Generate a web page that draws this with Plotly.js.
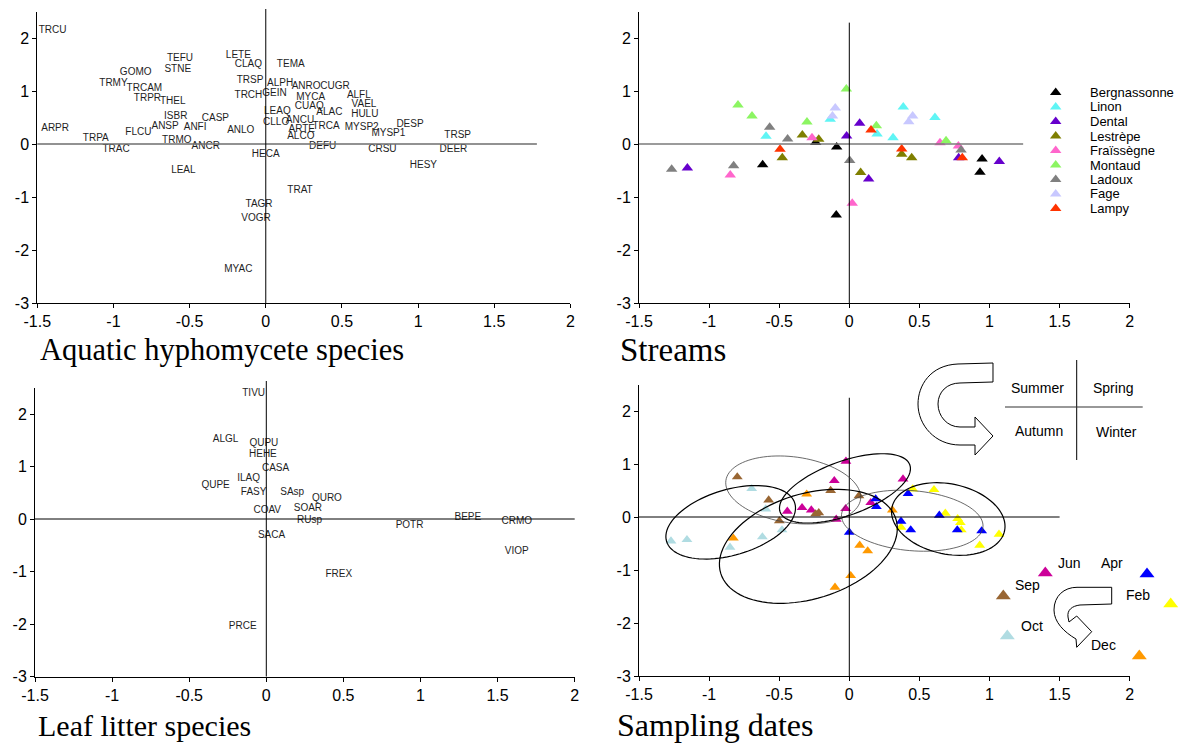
<!DOCTYPE html>
<html><head><meta charset="utf-8">
<script src="https://cdn.plot.ly/plotly-3.0.1.min.js"></script>
<style>html,body{margin:0;padding:0;background:#fff}#chart{width:1187px;height:745px}</style>
</head><body><div id="chart"></div>
<script>
// ---------------- DATA ----------------
// Panel 1: aquatic hyphomycete species (label, x, y)
const hyphoNames = ['TRCU','TEFU','STNE','LETE','CLAQ','GOMO','TRMY','TRCAM','TRPR','THEL','TRSP','TRCH','ISBR','CASP','ANSP','ANFI','ARPR','FLCU','ANLO','TRPA','TRMO','TRAC','ANCR','HECA','LEAL','TEMA','ALPH','ANRO','CUGR','GEIN','MYCA','ALFL','VAEL','CUAQ','ALAC','LEAQ','HULU','CLLO','ANCU','DESP','TRCA','MYSP2','ARTE','MYSP1','ALCO','TRSP','DEFU','CRSU','DEER','HESY','TRAT','TAGR','VOGR','MYAC'];
const hyphoX = [-1.40,-0.563,-0.578,-0.18,-0.114,-0.854,-1.00,-0.797,-0.777,-0.611,-0.103,-0.114,-0.591,-0.331,-0.661,-0.464,-1.383,-0.836,-0.164,-1.116,-0.584,-0.983,-0.394,0.00,-0.541,0.164,0.094,0.265,0.455,0.057,0.295,0.611,0.645,0.286,0.418,0.076,0.65,0.068,0.225,0.947,0.396,0.63,0.236,0.805,0.23,1.26,0.374,0.766,1.232,1.035,0.225,-0.044,-0.064,-0.18];
const hyphoY = [2.14,1.62,1.40,1.67,1.50,1.35,1.145,1.04,0.855,0.80,1.19,0.92,0.515,0.485,0.33,0.315,0.29,0.21,0.25,0.107,0.063,-0.10,-0.05,-0.20,-0.50,1.50,1.145,1.08,1.08,0.955,0.88,0.91,0.75,0.70,0.60,0.62,0.566,0.41,0.44,0.37,0.33,0.31,0.28,0.20,0.14,0.16,-0.05,-0.10,-0.10,-0.41,-0.88,-1.14,-1.415,-2.36];

// Panel 2: streams
const streamNames = ['Bergnassonne','Linon','Dental','Lestrèpe','Fraïssègne','Montaud','Ladoux','Fage','Lampy'];
const bergnassonneX = [-0.618,-0.24,-0.09,-0.093,0.947,0.932];
const bergnassonneY = [-0.39,0.03,-0.057,-1.34,-0.283,-0.535];
const linonX = [-0.594,-0.136,0.198,0.312,0.385,0.611];
const linonY = [0.145,0.466,0.189,0.12,0.70,0.50];
const dentalX = [-1.155,-0.019,0.074,0.138,0.78,1.07];
const dentalY = [-0.453,0.15,0.39,-0.66,-0.258,-0.33];
const lestrepeX = [-0.478,-0.335,-0.218,0.081,0.374,0.445];
const lestrepeY = [-0.258,0.17,0.088,-0.54,-0.195,-0.258];
const fraissegneX = [-0.849,-0.266,0.021,0.647,0.778];
const fraissegneY = [-0.585,0.12,-1.12,0.025,-0.038];
const montaudX = [-0.794,-0.694,-0.302,-0.021,0.193,0.69];
const montaudY = [0.736,0.528,0.415,1.04,0.346,0.063];
const ladouxX = [-1.267,-0.825,-0.568,-0.44,0.003,0.797];
const ladouxY = [-0.478,-0.41,0.315,0.094,-0.31,-0.113];
const fageX = [-0.12,-0.10,0.424,0.452];
const fageY = [0.528,0.68,0.42,0.528];
const lampyX = [-0.494,0.155,0.374,0.806];
const lampyY = [-0.10,0.264,-0.094,-0.258];

// Panel 3: leaf litter species
const leafNames = ['TIVU','ALGL','QUPU','HEHE','CASA','ILAQ','QUPE','FASY','SAsp','QURO','SOAR','COAV','RUsp','SACA','POTR','BEPE','CRMO','VIOP','FREX','PRCE'];
const leafX = [-0.082,-0.264,-0.016,-0.022,0.06,-0.115,-0.329,-0.082,0.168,0.393,0.27,0.006,0.281,0.034,0.929,1.307,1.624,1.624,0.47,-0.153];
const leafY = [2.39,1.505,1.44,1.225,0.958,0.768,0.634,0.50,0.514,0.387,0.196,0.158,-0.032,-0.31,-0.128,0.025,-0.044,-0.623,-1.048,-2.04];

// Panel 4: sampling dates
const monthNames = ['Jun','Sep','Oct','Dec','Feb','Apr'];
const junX = [-0.024,-0.107,0.383,-0.337,-0.442,-0.271,-0.026,-0.093,0.153];
const junY = [1.05,0.685,0.717,0.176,0.107,0.132,0.157,-0.044,0.27];
const sepX = [-0.799,-0.575,-0.499,-0.24,-0.218,-0.133,0.069];
const sepY = [0.755,0.32,-0.075,0.057,0.08,0.50,0.40];
const octX = [-1.272,-1.158,-0.696,-0.596,-0.62,-0.851,-0.48];
const octY = [-0.453,-0.428,0.534,0.151,-0.377,-0.572,-0.245];
const decX = [-0.827,-0.304,0.307,0.074,0.131,0.01,-0.102];
const decY = [-0.40,0.43,0.132,-0.535,-0.64,-1.107,-1.327];
const febX = [0.452,0.604,0.369,0.685,0.773,0.792,0.799,0.93,1.068];
const febY = [0.528,0.515,-0.195,0.07,-0.031,-0.107,-0.245,-0.535,-0.327];
const aprX = [0.188,0.193,0.419,0,0.369,0.438,0.642,0.77,0.944];
const aprY = [0.34,0.195,0.44,-0.289,-0.082,-0.245,0.032,-0.245,-0.264];
// dispersion ellipses (order: Oct, Sep, Jun, Dec, Apr, Feb)
const ellipseCx = [-0.846,-0.40,-0.031,-0.292,0.449,0.706];
const ellipseCy = [-0.10,0.51,0.54,-0.553,-0.07,-0.038];
const ellipseMajorPx = [66.9,68,69,91.7,71,57.5];
const ellipseMinorPx = [32.8,33,27,52.5,30,35.1];
const ellipseAngleDeg = [16.5,-8,20,17.2,-5,-11.8];

// axis ticks
const xTickVals = [-1.5,-1,-0.5,0,0.5,1,1.5,2];
const xTickText = ['-1.5','-1','-0.5','0','0.5','1','1.5','2'];
const yTickVals = [-3,-2,-1,0,1,2];
const yTickText = ['-3','-2','-1','0','1','2'];

// ---------------- STYLE / LAYOUT ----------------
const W = 1187, H = 745;
const XR = [-1.5, 2], YR = [-3, 2.5];
const BOX = {
  p1:{l:37.3,r:570.4,t:11.5,b:303},
  p2:{l:639,r:1129.7,t:11.5,b:303},
  p3:{l:35,r:574.7,t:387.75,b:676.5},
  p4:{l:639,r:1129.7,t:384.5,b:676}
};
const SANS = 'Liberation Sans, Arial, sans-serif';
const SERIF = 'Liberation Serif, Times New Roman, serif';
const streamColors = ['#000000','#5ff5f5','#6600cc','#7f7f00','#ff66cc','#8cf562','#808080','#c8c8ff','#ff3300'];
const monthColors = ['#cc0099','#996633','#b0dce2','#ff9900','#ffff00','#0000ff'];

function toPx(b,x,y){return [b.l+(x-XR[0])/(XR[1]-XR[0])*(b.r-b.l), b.b-(y-YR[0])/(YR[1]-YR[0])*(b.b-b.t)];}
function px2p(x,y){return [x/W, 1-y/H];}
function lineShape(x0,y0,x1,y1,color,width){const a=px2p(x0,y0),c=px2p(x1,y1);return {type:'line',xref:'paper',yref:'paper',x0:a[0],y0:a[1],x1:c[0],y1:c[1],line:{color:color,width:width}};}
function pathPx(pts,close){
  let s='';
  pts.forEach(p=>{s+=p[0];for(let i=1;i<p.length;i+=2){const q=px2p(p[i],p[i+1]);s+=(i>1?' ':'')+q[0].toFixed(5)+','+q[1].toFixed(5);}s+=' ';});
  return s+(close?'Z':'');
}

function axes(b, anchorX, anchorY){
  const common = {showgrid:false, zeroline:false, showline:true, linecolor:'#000', linewidth:1,
    ticks:'outside', ticklen:4, tickcolor:'#000', tickwidth:1, fixedrange:true,
    tickfont:{family:SANS,size:16,color:'#000'}};
  return [
    Object.assign({}, common, {domain:[b.l/W,b.r/W], range:XR, anchor:anchorY, tickmode:'array', tickvals:xTickVals, ticktext:xTickText}),
    Object.assign({}, common, {domain:[1-b.b/H,1-b.t/H], range:YR, anchor:anchorX, tickmode:'array', tickvals:yTickVals, ticktext:yTickText})
  ];
}

const traces = [];
const textFont = {family:SANS,size:10,color:'#1e1e1e'};
traces.push({type:'scatter',mode:'text',x:hyphoX,y:hyphoY,text:hyphoNames,textposition:'middle center',textfont:textFont,xaxis:'x',yaxis:'y',cliponaxis:false,hoverinfo:'text'});
const streamXs=[bergnassonneX,linonX,dentalX,lestrepeX,fraissegneX,montaudX,ladouxX,fageX,lampyX];
const streamYs=[bergnassonneY,linonY,dentalY,lestrepeY,fraissegneY,montaudY,ladouxY,fageY,lampyY];
streamNames.forEach((n,i)=>traces.push({type:'scatter',mode:'markers',name:n,x:streamXs[i],y:streamYs[i],xaxis:'x2',yaxis:'y2',marker:{symbol:'triangle-up',size:10,color:streamColors[i]}}));
traces.push({type:'scatter',mode:'text',x:leafX,y:leafY,text:leafNames,textposition:'middle center',textfont:textFont,xaxis:'x3',yaxis:'y3',cliponaxis:false,hoverinfo:'text'});
const monthXs=[junX,sepX,octX,decX,febX,aprX];
const monthYs=[junY,sepY,octY,decY,febY,aprY];
monthNames.forEach((n,i)=>traces.push({type:'scatter',mode:'markers',name:n,x:monthXs[i],y:monthYs[i],xaxis:'x4',yaxis:'y4',marker:{symbol:'triangle-up',size:9.5,color:monthColors[i]}}));

// legend markers on a full-figure pixel overlay axis
const streamLegendX = streamNames.map(()=>1055.7);
const streamLegendY = streamNames.map((n,i)=>92.5+i*14.5);
traces.push({type:'scatter',mode:'markers',x:streamLegendX,y:streamLegendY,xaxis:'x5',yaxis:'y5',marker:{symbol:'triangle-up',size:10,color:streamColors},hoverinfo:'skip'});
const monthLegendPos = {Jun:[1045.3,573],Sep:[1003.3,596],Oct:[1007.3,636],Dec:[1139.3,656],Feb:[1170.7,604],Apr:[1147,574]};
traces.push({type:'scatter',mode:'markers',x:monthNames.map(m=>monthLegendPos[m][0]),y:monthNames.map(m=>monthLegendPos[m][1]),xaxis:'x5',yaxis:'y5',marker:{symbol:'triangle-up',size:13,color:monthColors},hoverinfo:'skip'});

const [x1,y1]=axes(BOX.p1,'x','y');
const [x2,y2]=axes(BOX.p2,'x2','y2');
const [x3,y3]=axes(BOX.p3,'x3','y3');
const [x4,y4]=axes(BOX.p4,'x4','y4');

const shapes=[];
(function(){
  let a,b;
  a=toPx(BOX.p1,-1.5,0); b=toPx(BOX.p1,1.78,0); shapes.push(lineShape(a[0],a[1],b[0],b[1],'#6e6e6e',1.4));
  a=toPx(BOX.p1,0,-3); shapes.push(lineShape(a[0],a[1],a[0],9,'#000',1));
  a=toPx(BOX.p2,-1.5,0); b=toPx(BOX.p2,1.24,0); shapes.push(lineShape(a[0],a[1],b[0],b[1],'#7a7a7a',1.6));
  a=toPx(BOX.p2,0,-3); b=toPx(BOX.p2,0,2.29); shapes.push(lineShape(a[0],a[1],b[0],b[1],'#000',1));
  a=toPx(BOX.p3,-1.5,0); b=toPx(BOX.p3,2,0); shapes.push(lineShape(a[0],a[1],b[0],b[1],'#000',1));
  a=toPx(BOX.p3,0,-3); shapes.push(lineShape(a[0],a[1],a[0],381,'#000',1));
  a=toPx(BOX.p4,-1.5,0); b=toPx(BOX.p4,1.5,0); shapes.push(lineShape(a[0],a[1],b[0],b[1],'#000',1));
  a=toPx(BOX.p4,0,-3); b=toPx(BOX.p4,0,2.25); shapes.push(lineShape(a[0],a[1],b[0],b[1],'#000',1));
})();
ellipseCx.forEach((cx,i)=>{
  const c=toPx(BOX.p4,cx,ellipseCy[i]);
  const th=ellipseAngleDeg[i]*Math.PI/180, a=ellipseMajorPx[i], bb=ellipseMinorPx[i];
  const pts=[];
  for(let k=0;k<=96;k++){
    const t=k/96*2*Math.PI;
    const px=c[0]+a*Math.cos(t)*Math.cos(th)+bb*Math.sin(t)*Math.sin(th);
    const py=c[1]-a*Math.cos(t)*Math.sin(th)+bb*Math.sin(t)*Math.cos(th);
    pts.push([k?'L':'M',px,py]);
  }
  const thin=(i===1||i===4);
  shapes.push({type:'path',xref:'paper',yref:'paper',path:pathPx(pts,true),line:{color:thin?'#444':'#000',width:thin?0.8:1.2}});
});
shapes.push(lineShape(1076.7,360,1076.7,460,'#000',1));
shapes.push(lineShape(1005,407,1142.7,407,'#333',1.2));
shapes.push({type:'path',xref:'paper',yref:'paper',fillcolor:'#fff',line:{color:'#000',width:1},
  path:pathPx([['M',993,363],['L',958,364],['C',930,365,918,386,918,404],['C',918,425,935,445,960,445],['L',975,445],['L',975,455],['L',993,436],['L',975,417],['L',975,427],['L',960,427],['C',947,427,938,416,938,404],['C',938,392,947,383,960,383],['L',993,382]],true)});
shapes.push({type:'path',xref:'paper',yref:'paper',fillcolor:'#fff',line:{color:'#000',width:1},
  path:pathPx([['M',1111.7,587.3],['L',1111.7,604],['L',1080,605],['C',1072,606,1067,610,1068,617],['L',1069,622],['L',1076.7,616],['L',1091.7,631.7],['L',1076.7,647.3],['L',1076,639],['C',1064,632,1054,622,1054,610],['C',1054,596,1064,587.3,1077,587.3]],true)});

const annotations=[];
function ann(text,x,y,size,family,xanchor){const p=px2p(x,y);annotations.push({text:text,xref:'paper',yref:'paper',x:p[0],y:p[1],xanchor:xanchor||'center',yanchor:'middle',showarrow:false,font:{family:family||SANS,size:size,color:'#000'}});}
ann('Aquatic hyphomycete species',38,350,30.5,SERIF,'left');
ann('Streams',618,350,33,SERIF,'left');
ann('Leaf litter species',36,725,30,SERIF,'left');
ann('Sampling dates',615,725,32,SERIF,'left');
streamNames.forEach((n,i)=>ann(n,1088,streamLegendY[i],13,SANS,'left'));
ann('Summer',1037.3,388.3,14);
ann('Spring',1112.7,388.3,14);
ann('Autumn',1039.3,431,14);
ann('Winter',1116,431.7,14);
ann('Jun',1069.3,563.3,14);
ann('Apr',1112,563.3,14);
ann('Sep',1027.7,585,14);
ann('Feb',1138.3,595,14);
ann('Oct',1032.3,626,14);
ann('Dec',1103.3,645,14);

const layout = {
  width:W, height:H, margin:{l:0,r:0,t:0,b:0}, paper_bgcolor:'#fff', plot_bgcolor:'rgba(0,0,0,0)',
  showlegend:false, font:{family:SANS},
  xaxis:x1, yaxis:y1, xaxis2:x2, yaxis2:y2, xaxis3:x3, yaxis3:y3, xaxis4:x4, yaxis4:y4,
  xaxis5:{domain:[0,1],range:[0,W],visible:false,fixedrange:true,anchor:'y5'},
  yaxis5:{domain:[0,1],range:[H,0],visible:false,fixedrange:true,anchor:'x5'},
  shapes:shapes, annotations:annotations
};
Plotly.newPlot('chart', traces, layout, {displayModeBar:false, staticPlot:true});
</script></body></html>
